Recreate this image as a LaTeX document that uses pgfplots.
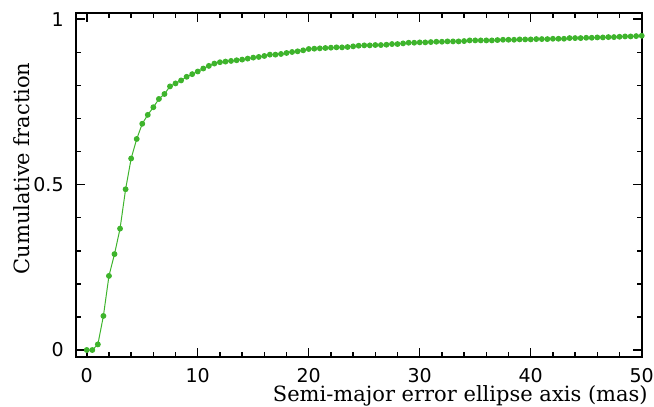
\documentclass[border=0pt]{standalone}
\usepackage{fontspec}
\usepackage{pgfplots}
\pgfplotsset{compat=1.18}
\newfontfamily\tickfont{DejaVu Sans}
\newfontfamily\labelfont{DejaVu Serif}
\definecolor{curvegreen}{RGB}{62,180,44}

\begin{document}
\begin{tikzpicture}
\begin{axis}[
  name=ax,
  scale only axis,
  width=282.9pt, height=171.7pt,
  xmin=-0.97, xmax=50,
  ymin=-0.020, ymax=1.018,
  xtick={0,10,...,50},
  ytick={0,0.5,1},
  yticklabels={0,0.5,1},
  minor x tick num=4,
  minor y tick num=4,
  tick align=inside,
  major tick length=4.5pt,
  minor tick length=2.5pt,
  axis line style={line width=1pt},
  every tick/.style={black, line width=0.75pt},
  /pgf/number format/assume math mode=true,
  tick label style={font=\tickfont\fontsize{9.5}{11}\selectfont, inner sep=0pt},
  xticklabel style={yshift=-5.5pt},
  yticklabel style={xshift=-6pt},
  xlabel={Semi-major error ellipse axis (mas)},
  ylabel={Cumulative fraction},
  label style={font=\labelfont\fontsize{10.5}{12}\selectfont},
  xlabel style={at={([xshift=3.15pt,yshift=-22.5pt]rel axis cs:1,0)}, anchor=base east, inner sep=0pt},
  ylabel style={at={([xshift=-23pt]rel axis cs:0,0.548)}, anchor=base, inner sep=0pt},
]
\addplot[color=curvegreen, line width=0.5pt, mark=*, mark size=1.2pt,
  mark options={fill=curvegreen, draw=curvegreen}] coordinates {
  (0,0) (0.5,0) (1,0.017) (1.5,0.103) (2,0.224) (2.5,0.29) (3,0.367)
  (3.5,0.486) (4,0.579) (4.5,0.638) (5,0.684) (5.5,0.711) (6,0.734)
  (6.5,0.759) (7,0.774) (7.5,0.797) (8,0.806) (8.5,0.815) (9,0.826)
  (9.5,0.834) (10,0.842) (10.5,0.851) (11,0.859) (11.5,0.866) (12,0.870)
  (12.5,0.872) (13,0.874) (13.5,0.876) (14,0.878) (14.5,0.881) (15,0.884)
  (15.5,0.886) (16,0.889) (16.5,0.893) (17,0.893) (17.5,0.895) (18,0.898)
  (18.5,0.901) (19,0.903) (19.5,0.906) (20,0.910) (20.5,0.911) (21,0.912)
  (21.5,0.913) (22,0.914) (22.5,0.915) (23,0.915) (23.5,0.916) (24,0.918)
  (24.5,0.920) (25,0.921) (25.5,0.921) (26,0.922) (26.5,0.922) (27,0.923)
  (27.5,0.925) (28,0.925) (28.5,0.927) (29,0.929) (29.5,0.929) (30,0.930)
  (30.5,0.930) (31,0.931) (31.5,0.932) (32,0.932) (32.5,0.933) (33,0.933)
  (33.5,0.933) (34,0.934) (34.5,0.936) (35,0.936) (35.5,0.936) (36,0.936)
  (36.5,0.936) (37,0.937) (37.5,0.938) (38,0.938) (38.5,0.938) (39,0.939)
  (39.5,0.939) (40,0.939) (40.5,0.940) (41,0.940) (41.5,0.940) (42,0.941)
  (42.5,0.941) (43,0.941) (43.5,0.943) (44,0.943) (44.5,0.943) (45,0.944)
  (45.5,0.944) (46,0.945) (46.5,0.945) (47,0.946) (47.5,0.946) (48,0.947)
  (48.5,0.948) (49,0.948) (49.5,0.949) (50,0.950)
};
\end{axis}
% keep the reference's margins round the axis
\path ([shift={(-38pt,-24.65pt)}]ax.south west) rectangle ([shift={(6.15pt,6.65pt)}]ax.north east);
\end{tikzpicture}
\end{document}
